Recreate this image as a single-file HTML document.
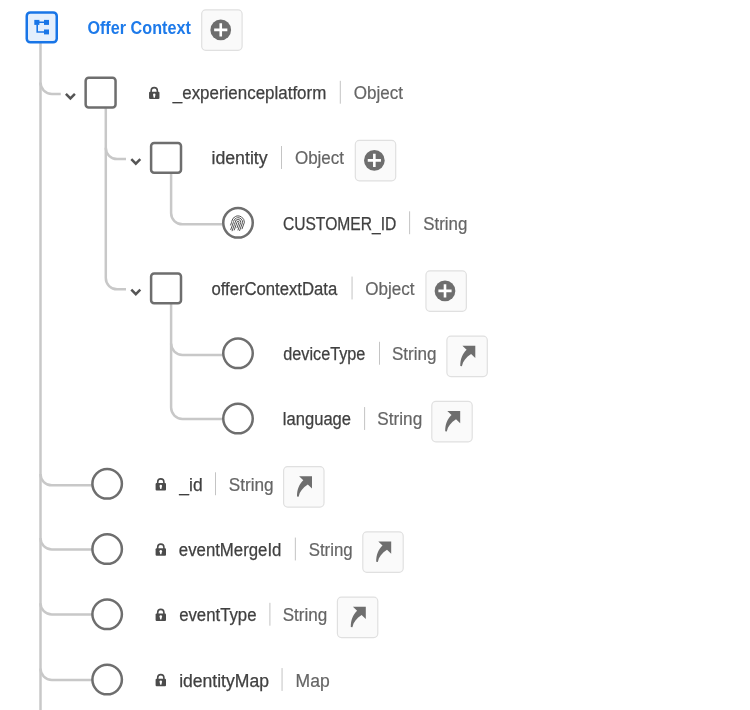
<!DOCTYPE html>
<html><head><meta charset="utf-8"><title>Offer Context schema</title>
<style>
html,body{margin:0;padding:0;background:#fff;width:750px;height:710px;overflow:hidden;font-family:"Liberation Sans",sans-serif;}
svg{display:block;will-change:transform;}
</style></head><body>
<svg width="750" height="710" viewBox="0 0 750 710"><g fill="none" stroke="#c8c8c8" stroke-width="2.5"><path d="M40.5 43 L40.5 710" /><path d="M40.5 82.58 A11.3 11.3 0 0 0 51.80 93.88 L60.8 93.88" /><path d="M40.5 474.05 A11.3 11.3 0 0 0 51.80 485.35 L92 485.35" /><path d="M40.5 538.10 A11.3 11.3 0 0 0 51.80 549.40 L92 549.40" /><path d="M40.5 603.25 A11.3 11.3 0 0 0 51.80 614.55 L92 614.55" /><path d="M40.5 668.60 A11.3 11.3 0 0 0 51.80 679.90 L92 679.90" /><path d="M105.8 108 L105.8 278.03 A11.3 11.3 0 0 0 117.10 289.33 L126 289.33" /><path d="M105.8 147.80 A11.3 11.3 0 0 0 117.10 159.10 L126 159.10" /><path d="M171.1 173.5 L171.1 213.05 A11.3 11.3 0 0 0 182.40 224.35 L222.5 224.35" /><path d="M171.1 303.5 L171.1 407.60 A11.3 11.3 0 0 0 182.40 418.90 L222.5 418.90" /><path d="M171.1 343.60 A11.3 11.3 0 0 0 182.40 354.90 L222.5 354.90" /></g>
<g fill="none" stroke="#555" stroke-width="2.5" stroke-linecap="butt" stroke-linejoin="miter"><path d="M65.90 93.85 L70.40 98.45 L74.90 93.85" /><path d="M131.30 159.10 L135.80 163.70 L140.30 159.10" /><path d="M131.30 289.60 L135.80 294.20 L140.30 289.60" /></g>
<g fill="#fff" stroke="#6e6e6e" stroke-width="2.5"><rect x="85.65" y="77.7" width="29.9" height="29.9" rx="3" /><rect x="151.1" y="142.95000000000002" width="29.9" height="29.9" rx="3" /><rect x="151.1" y="273.45" width="29.9" height="29.9" rx="3" /><circle cx="238" cy="222.85" r="14.75" /><circle cx="238" cy="353.35" r="14.75" /><circle cx="238" cy="418.60" r="14.75" /><circle cx="107.15" cy="483.85" r="14.75" /><circle cx="107.15" cy="549.10" r="14.75" /><circle cx="107.15" cy="614.35" r="14.75" /><circle cx="107.15" cy="679.60" r="14.75" /></g>
<rect x="26.75" y="12.45" width="30" height="29.9" rx="3.6" fill="#e4effd" stroke="#1875e7" stroke-width="2.5"/>
<g fill="#1875e7"><rect x="34.3" y="19.9" width="5.1" height="5"/><rect x="44" y="19.9" width="5" height="5"/><rect x="44" y="29.5" width="5" height="4.9"/></g>
<path d="M39 22.2 H44 M37.2 24.5 V32 H44" fill="none" stroke="#1875e7" stroke-width="1.6"/>
<g fill="none" stroke="#4b4b4b" stroke-width="0.95" stroke-linecap="round"><path d="M234.23 230.00 L237.00 222.30 A1.0 1.0 0 0 1 239.00 222.30 L237.02 227.80" /><path d="M232.14 230.80 L235.20 222.30 A2.8 2.8 0 0 1 240.80 222.30 L238.03 230.00" stroke-dasharray="6 0.9 30" /><path d="M230.77 229.60 L233.40 222.30 A4.6 4.6 0 0 1 242.60 222.30 L239.61 230.60" stroke-dasharray="8 1 4 1 30" /><path d="M230.63 225.00 L231.60 222.30 A6.4 6.4 0 0 1 244.40 222.30 L242.06 228.80" stroke-dasharray="3 1 6 1 5 1 30" /></g>
<path d="M151.15 92.40 V90.70 A3.1 3.1 0 0 1 157.35 90.70 V92.40" fill="none" stroke="#4b4b4b" stroke-width="1.6"/><rect x="149.05" y="91.80" width="10.4" height="7.3" rx="1" fill="#4b4b4b"/><path d="M153.00 94.80 A1.25 1.25 0 1 1 155.50 94.80 L154.80 97.70 H153.70 Z" fill="#fff"/>
<path d="M157.70 483.70 V482.00 A3.1 3.1 0 0 1 163.90 482.00 V483.70" fill="none" stroke="#4b4b4b" stroke-width="1.6"/><rect x="155.60" y="483.10" width="10.4" height="7.3" rx="1" fill="#4b4b4b"/><path d="M159.55 486.10 A1.25 1.25 0 1 1 162.05 486.10 L161.35 489.00 H160.25 Z" fill="#fff"/>
<path d="M157.70 548.95 V547.25 A3.1 3.1 0 0 1 163.90 547.25 V548.95" fill="none" stroke="#4b4b4b" stroke-width="1.6"/><rect x="155.60" y="548.35" width="10.4" height="7.3" rx="1" fill="#4b4b4b"/><path d="M159.55 551.35 A1.25 1.25 0 1 1 162.05 551.35 L161.35 554.25 H160.25 Z" fill="#fff"/>
<path d="M157.70 614.20 V612.50 A3.1 3.1 0 0 1 163.90 612.50 V614.20" fill="none" stroke="#4b4b4b" stroke-width="1.6"/><rect x="155.60" y="613.60" width="10.4" height="7.3" rx="1" fill="#4b4b4b"/><path d="M159.55 616.60 A1.25 1.25 0 1 1 162.05 616.60 L161.35 619.50 H160.25 Z" fill="#fff"/>
<path d="M157.70 679.45 V677.75 A3.1 3.1 0 0 1 163.90 677.75 V679.45" fill="none" stroke="#4b4b4b" stroke-width="1.6"/><rect x="155.60" y="678.85" width="10.4" height="7.3" rx="1" fill="#4b4b4b"/><path d="M159.55 681.85 A1.25 1.25 0 1 1 162.05 681.85 L161.35 684.75 H160.25 Z" fill="#fff"/>
<rect x="201.70" y="9.90" width="40.40" height="40.40" rx="4" fill="#fafafa" stroke="#e0e0e0" stroke-width="1.2"/><circle cx="220.75" cy="29.90" r="10.35" fill="#6e6e6e"/><path d="M214.15 29.90 H227.35 M220.75 23.30 V36.50" stroke="#fff" stroke-width="2.6"/>
<rect x="355.30" y="140.40" width="40.40" height="40.40" rx="4" fill="#fafafa" stroke="#e0e0e0" stroke-width="1.2"/><circle cx="374.35" cy="160.40" r="10.35" fill="#6e6e6e"/><path d="M367.75 160.40 H380.95 M374.35 153.80 V167.00" stroke="#fff" stroke-width="2.6"/>
<rect x="425.95" y="270.90" width="40.40" height="40.40" rx="4" fill="#fafafa" stroke="#e0e0e0" stroke-width="1.2"/><circle cx="445.00" cy="290.90" r="10.35" fill="#6e6e6e"/><path d="M438.40 290.90 H451.60 M445.00 284.30 V297.50" stroke="#fff" stroke-width="2.6"/>
<rect x="446.90" y="336.15" width="40.40" height="40.40" rx="4" fill="#fafafa" stroke="#e0e0e0" stroke-width="1.2"/><path d="M462.40 345.65 L475.30 345.65 L475.30 357.95 L471.10 354.05 C466.10 357.35 462.90 361.05 461.90 366.15 L460.30 365.95 C460.20 359.05 462.50 353.55 466.60 349.75 Z" fill="#6e6e6e"/>
<rect x="431.80" y="401.40" width="40.40" height="40.40" rx="4" fill="#fafafa" stroke="#e0e0e0" stroke-width="1.2"/><path d="M447.30 410.90 L460.20 410.90 L460.20 423.20 L456.00 419.30 C451.00 422.60 447.80 426.30 446.80 431.40 L445.20 431.20 C445.10 424.30 447.40 418.80 451.50 415.00 Z" fill="#6e6e6e"/>
<rect x="283.60" y="466.65" width="40.40" height="40.40" rx="4" fill="#fafafa" stroke="#e0e0e0" stroke-width="1.2"/><path d="M299.10 476.15 L312.00 476.15 L312.00 488.45 L307.80 484.55 C302.80 487.85 299.60 491.55 298.60 496.65 L297.00 496.45 C296.90 489.55 299.20 484.05 303.30 480.25 Z" fill="#6e6e6e"/>
<rect x="362.80" y="531.90" width="40.40" height="40.40" rx="4" fill="#fafafa" stroke="#e0e0e0" stroke-width="1.2"/><path d="M378.30 541.40 L391.20 541.40 L391.20 553.70 L387.00 549.80 C382.00 553.10 378.80 556.80 377.80 561.90 L376.20 561.70 C376.10 554.80 378.40 549.30 382.50 545.50 Z" fill="#6e6e6e"/>
<rect x="337.40" y="597.15" width="40.40" height="40.40" rx="4" fill="#fafafa" stroke="#e0e0e0" stroke-width="1.2"/><path d="M352.90 606.65 L365.80 606.65 L365.80 618.95 L361.60 615.05 C356.60 618.35 353.40 622.05 352.40 627.15 L350.80 626.95 C350.70 620.05 353.00 614.55 357.10 610.75 Z" fill="#6e6e6e"/>
<rect x="339.80" y="80.80" width="1" height="22.9" fill="#c4c4c4"/>
<rect x="281.00" y="146.05" width="1" height="22.9" fill="#c4c4c4"/>
<rect x="409.10" y="211.30" width="1" height="22.9" fill="#c4c4c4"/>
<rect x="351.55" y="276.55" width="1" height="22.9" fill="#c4c4c4"/>
<rect x="379.00" y="341.80" width="1" height="22.9" fill="#c4c4c4"/>
<rect x="364.10" y="407.05" width="1" height="22.9" fill="#c4c4c4"/>
<rect x="215.00" y="472.30" width="1" height="22.9" fill="#c4c4c4"/>
<rect x="294.85" y="537.55" width="1" height="22.9" fill="#c4c4c4"/>
<rect x="269.40" y="602.80" width="1" height="22.9" fill="#c4c4c4"/>
<rect x="281.55" y="668.05" width="1" height="22.9" fill="#c4c4c4"/>
<g font-family="Liberation Sans, sans-serif"><text x="87.4" y="33.70" fill="#1d7aea" font-size="18" font-weight="bold" textLength="103.425" lengthAdjust="spacingAndGlyphs">Offer Context</text><text x="172.821" y="98.95" fill="#404040" font-size="17.5" font-weight="normal" textLength="153.475" lengthAdjust="spacingAndGlyphs" stroke="#404040" stroke-width="0.25">_experienceplatform</text><text x="353.643" y="98.95" fill="#656565" font-size="17.5" font-weight="normal" textLength="49.305" lengthAdjust="spacingAndGlyphs" stroke="#656565" stroke-width="0.2">Object</text><text x="211.44" y="164.20" fill="#404040" font-size="17.5" font-weight="normal" textLength="56.22" lengthAdjust="spacingAndGlyphs" stroke="#404040" stroke-width="0.25">identity</text><text x="294.914" y="164.20" fill="#656565" font-size="17.5" font-weight="normal" textLength="49.133" lengthAdjust="spacingAndGlyphs" stroke="#656565" stroke-width="0.2">Object</text><text x="282.92" y="230.05" fill="#404040" font-size="17.5" font-weight="normal" textLength="113.363" lengthAdjust="spacingAndGlyphs" stroke="#404040" stroke-width="0.25">CUSTOMER_ID</text><text x="423.207" y="230.05" fill="#656565" font-size="17.5" font-weight="normal" textLength="44.076" lengthAdjust="spacingAndGlyphs" stroke="#656565" stroke-width="0.2">String</text><text x="211.378" y="294.70" fill="#404040" font-size="17.5" font-weight="normal" textLength="125.909" lengthAdjust="spacingAndGlyphs" stroke="#404040" stroke-width="0.25">offerContextData</text><text x="365.215" y="294.70" fill="#656565" font-size="17.5" font-weight="normal" textLength="49.223" lengthAdjust="spacingAndGlyphs" stroke="#656565" stroke-width="0.2">Object</text><text x="283.185" y="359.95" fill="#404040" font-size="17.5" font-weight="normal" textLength="82.246" lengthAdjust="spacingAndGlyphs" stroke="#404040" stroke-width="0.25">deviceType</text><text x="391.956" y="359.95" fill="#656565" font-size="17.5" font-weight="normal" textLength="44.545" lengthAdjust="spacingAndGlyphs" stroke="#656565" stroke-width="0.2">String</text><text x="282.86" y="425.20" fill="#404040" font-size="17.5" font-weight="normal" textLength="68.183" lengthAdjust="spacingAndGlyphs" stroke="#404040" stroke-width="0.25">language</text><text x="377.352" y="425.20" fill="#656565" font-size="17.5" font-weight="normal" textLength="44.856" lengthAdjust="spacingAndGlyphs" stroke="#656565" stroke-width="0.2">String</text><text x="179.343" y="491.05" fill="#404040" font-size="17.5" font-weight="normal" textLength="23.255" lengthAdjust="spacingAndGlyphs" stroke="#404040" stroke-width="0.25">_id</text><text x="228.696" y="491.05" fill="#656565" font-size="17.5" font-weight="normal" textLength="44.88" lengthAdjust="spacingAndGlyphs" stroke="#656565" stroke-width="0.2">String</text><text x="178.84" y="555.70" fill="#404040" font-size="17.5" font-weight="normal" textLength="102.602" lengthAdjust="spacingAndGlyphs" stroke="#404040" stroke-width="0.25">eventMergeId</text><text x="308.718" y="555.70" fill="#656565" font-size="17.5" font-weight="normal" textLength="43.976" lengthAdjust="spacingAndGlyphs" stroke="#656565" stroke-width="0.2">String</text><text x="179.167" y="620.95" fill="#404040" font-size="17.5" font-weight="normal" textLength="77.345" lengthAdjust="spacingAndGlyphs" stroke="#404040" stroke-width="0.25">eventType</text><text x="282.735" y="620.95" fill="#656565" font-size="17.5" font-weight="normal" textLength="44.55" lengthAdjust="spacingAndGlyphs" stroke="#656565" stroke-width="0.2">String</text><text x="179.143" y="686.70" fill="#404040" font-size="17.5" font-weight="normal" textLength="89.813" lengthAdjust="spacingAndGlyphs" stroke="#404040" stroke-width="0.25">identityMap</text><text x="295.584" y="686.70" fill="#656565" font-size="17.5" font-weight="normal" textLength="34.119" lengthAdjust="spacingAndGlyphs" stroke="#656565" stroke-width="0.2">Map</text></g></svg>
</body></html>
